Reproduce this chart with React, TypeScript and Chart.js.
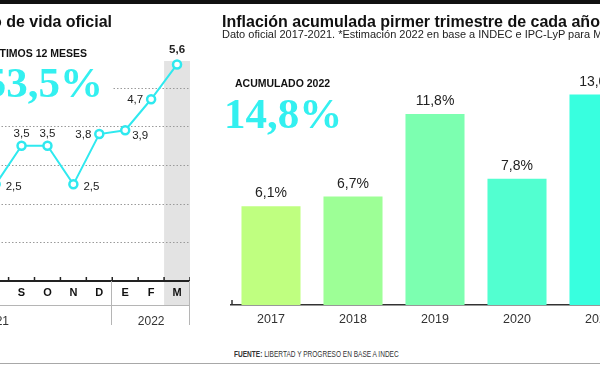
import React, { useEffect, useRef } from 'react';
import { Chart, registerables } from 'chart.js';

Chart.register(...registerables);

// ---- Data: left panel (monthly inflation, last 12 months) ----
const monthLabels = ['A', 'M', 'J', 'J', 'A', 'S', 'O', 'N', 'D', 'E', 'F', 'M'];
// first four months fall outside the visible crop
const monthlyInflation: (number | null)[] = [null, null, null, null, 2.5, 3.5, 3.5, 2.5, 3.8, 3.9, 4.7, 5.6];
const monthGridValues = [1, 2, 3, 4, 5];
const yearGroupLabels = ['2021', '2022'];
const yearGroupSizes = [9, 3];

// ---- Data: right panel (first-quarter accumulated inflation) ----
const years = ['2017', '2018', '2019', '2020', '2021'];
const q1Inflation = [6.1, 6.7, 11.8, 7.8, 13.0];

// ---- Styles ----
const CYAN = '#2fe9ef';
const BIG_CYAN = '#33f0f0';
const barColors = ['#bfff80', '#9dff96', '#7cffb0', '#52ffd0', '#38ffdf'];
const pointLabelSides = ['', '', '', '', 'right', 'above', 'above', 'right', 'left', 'belowRight', 'left', 'aboveBold'];
const SANS = '"Liberation Sans", Arial, sans-serif';
const SERIF = '"Liberation Serif", "Times New Roman", serif';

const fmt = (v: number) => v.toFixed(1).replace('.', ',');

const leftDecor = {
  id: 'leftDecor',
  beforeDraw(chart: any) {
    const { ctx, chartArea, scales } = chart;
    const x = scales.x;
    const y = scales.y;
    const half = (x.getPixelForValue(1) - x.getPixelForValue(0)) / 2;
    const mx = x.getPixelForValue(monthLabels.length - 1);
    ctx.save();
    // highlighted last month band
    ctx.fillStyle = '#e3e3e3';
    const bandTop = chartArea.top + 12;
    ctx.fillRect(mx - half, bandTop, half * 2, x.bottom - bandTop);
    // dotted gridlines
    ctx.strokeStyle = '#9a9a9a';
    ctx.lineWidth = 1;
    ctx.setLineDash([1.5, 2]);
    monthGridValues.forEach((v) => {
      const py = Math.round(y.getPixelForValue(v)) + 0.5;
      ctx.beginPath();
      ctx.moveTo(chartArea.left, py);
      ctx.lineTo(chartArea.right, py);
      ctx.stroke();
    });
    ctx.restore();
  },
  afterDraw(chart: any) {
    const { ctx, chartArea, scales } = chart;
    const x = scales.x;
    const half = (x.getPixelForValue(1) - x.getPixelForValue(0)) / 2;
    ctx.save();
    // upward tick marks at category boundaries
    ctx.strokeStyle = '#222';
    ctx.lineWidth = 1.5;
    for (let i = 0; i < monthLabels.length; i++) {
      const bx = x.getPixelForValue(i) + half;
      ctx.beginPath();
      ctx.moveTo(bx, chartArea.bottom - 4);
      ctx.lineTo(bx, chartArea.bottom);
      ctx.stroke();
    }
    // line under month labels
    ctx.strokeStyle = '#b5b5b5';
    ctx.lineWidth = 1;
    ctx.beginPath();
    ctx.moveTo(chartArea.left, x.bottom + 0.5);
    ctx.lineTo(chartArea.right, x.bottom + 0.5);
    ctx.stroke();
    // year separators and labels
    let start = 0;
    ctx.font = '12px ' + SANS;
    ctx.fillStyle = '#333';
    ctx.textAlign = 'center';
    ctx.textBaseline = 'alphabetic';
    yearGroupLabels.forEach((lab, gi) => {
      const end = start + yearGroupSizes[gi] - 1;
      const x0 = x.getPixelForValue(start) - half;
      const x1 = x.getPixelForValue(end) + half;
      ctx.beginPath();
      ctx.moveTo(Math.round(x1) - 0.5, chartArea.bottom);
      ctx.lineTo(Math.round(x1) - 0.5, x.bottom + 20);
      ctx.stroke();
      ctx.fillText(lab, (x0 + x1) / 2, x.bottom + 20);
      start = end + 1;
    });
    ctx.restore();
  },
  afterDatasetsDraw(chart: any) {
    const { ctx } = chart;
    const meta = chart.getDatasetMeta(0);
    ctx.save();
    ctx.fillStyle = '#222';
    meta.data.forEach((pt: any, i: number) => {
      const v = monthlyInflation[i];
      if (v == null) return;
      const side = pointLabelSides[i];
      const t = fmt(v);
      ctx.font = (side === 'aboveBold' ? 'bold ' : '') + '11.5px ' + SANS;
      if (side === 'right') {
        ctx.textAlign = 'left';
        ctx.textBaseline = 'middle';
        ctx.fillText(t, pt.x + 10, pt.y + 2);
      } else if (side === 'left') {
        ctx.textAlign = 'right';
        ctx.textBaseline = 'middle';
        ctx.fillText(t, pt.x - 8, pt.y + 1);
      } else if (side === 'belowRight') {
        ctx.textAlign = 'left';
        ctx.textBaseline = 'middle';
        ctx.fillText(t, pt.x + 7, pt.y + 6);
      } else if (side === 'aboveBold') {
        ctx.textAlign = 'center';
        ctx.textBaseline = 'alphabetic';
        ctx.fillText(t, pt.x, pt.y - 11);
      } else {
        ctx.textAlign = 'center';
        ctx.textBaseline = 'alphabetic';
        ctx.fillText(t, pt.x, pt.y - 9);
      }
    });
    ctx.restore();
  },
};

const rightDecor = {
  id: 'rightDecor',
  afterDatasetsDraw(chart: any) {
    const { ctx } = chart;
    const meta = chart.getDatasetMeta(0);
    ctx.save();
    ctx.fillStyle = '#222';
    ctx.font = '14px ' + SANS;
    ctx.textAlign = 'center';
    ctx.textBaseline = 'alphabetic';
    meta.data.forEach((bar: any, i: number) => {
      ctx.fillText(fmt(q1Inflation[i]) + '%', bar.x, bar.y - 9);
    });
    ctx.restore();
  },
  afterDraw(chart: any) {
    const { ctx, chartArea } = chart;
    ctx.save();
    ctx.strokeStyle = '#333';
    ctx.lineWidth = 1.5;
    ctx.beginPath();
    ctx.moveTo(chartArea.left + 2, chartArea.bottom - 5);
    ctx.lineTo(chartArea.left + 2, chartArea.bottom);
    ctx.stroke();
    ctx.restore();
  },
};

export default function App() {
  const leftRef = useRef<HTMLCanvasElement>(null);
  const rightRef = useRef<HTMLCanvasElement>(null);

  useEffect(() => {
    const left = new Chart(leftRef.current as HTMLCanvasElement, {
      type: 'line',
      data: {
        labels: monthLabels,
        datasets: [
          {
            data: monthlyInflation,
            borderColor: CYAN,
            borderWidth: 2,
            pointRadius: 4,
            pointBorderWidth: 2.5,
            pointBackgroundColor: '#fff',
            pointBorderColor: CYAN,
            tension: 0,
            spanGaps: false,
          },
        ],
      },
      options: {
        responsive: false,
        animation: false,
        events: [],
        layout: { autoPadding: false, padding: { top: 49, bottom: 40, left: 0, right: 0 } },
        plugins: { legend: { display: false }, tooltip: { enabled: false } },
        scales: {
          x: {
            type: 'category',
            offset: true,
            grid: { display: false, drawTicks: false },
            border: { display: true, color: '#222', width: 2 },
            ticks: {
              color: '#111',
              font: { family: SANS, size: 11, weight: 'bold' },
              padding: 5,
              maxRotation: 0,
              autoSkip: false,
            },
            afterFit: (s: any) => {
              s.height = 24;
            },
          },
          y: { display: false, min: 0, max: 6 },
        },
      },
      plugins: [leftDecor],
    } as any);

    const right = new Chart(rightRef.current as HTMLCanvasElement, {
      type: 'bar',
      data: {
        labels: years,
        datasets: [
          {
            data: q1Inflation,
            backgroundColor: barColors,
            borderWidth: 0,
            categoryPercentage: 0.8,
            barPercentage: 0.9,
          },
        ],
      },
      options: {
        responsive: false,
        animation: false,
        events: [],
        layout: { autoPadding: false, padding: { top: 46, bottom: 10, left: 0, right: 0 } },
        plugins: { legend: { display: false }, tooltip: { enabled: false } },
        scales: {
          x: {
            grid: { display: false, drawTicks: false },
            border: { display: true, color: '#333', width: 1.5 },
            ticks: {
              color: '#333',
              font: { family: SANS, size: 12.5 },
              padding: 7,
              maxRotation: 0,
              autoSkip: false,
            },
            afterFit: (s: any) => {
              s.height = 25;
            },
          },
          y: { display: false, min: 0, max: 16 },
        },
      },
      plugins: [rightDecor],
    } as any);

    return () => {
      left.destroy();
      right.destroy();
    };
  }, []);

  const abs = (o: any): React.CSSProperties => ({ position: 'absolute', lineHeight: 1, whiteSpace: 'nowrap', ...o });

  return (
    <div
      style={{
        position: 'absolute',
        left: 0,
        top: 0,
        width: 600,
        height: 365,
        overflow: 'hidden',
        background: '#fff',
        fontFamily: SANS,
        color: '#111',
      }}
    >
      <div style={abs({ left: 0, top: 0, width: 600, height: 3.5, background: '#111' })} />

      {/* Left panel */}
      <canvas ref={leftRef} width={311} height={345} style={{ position: 'absolute', left: -121, top: 0 }} />
      <div style={abs({ right: 488, top: 13.5, fontSize: 16, fontWeight: 'bold' })}>Inflación del costo de vida oficial</div>
      <div style={abs({ right: 513, top: 48.3, fontSize: 10.5, fontWeight: 'bold' })}>ÚLTIMOS 12 MESES</div>
      <div
        style={abs({
          right: 488,
          top: 61,
          height: 43,
          paddingRight: 9,
          paddingLeft: 4,
          fontSize: 43,
          fontWeight: 'bold',
          fontFamily: SERIF,
          color: BIG_CYAN,
          background: '#fff',
        })}
      >
        53,5%
      </div>

      {/* Right panel */}
      <canvas ref={rightRef} width={410} height={340} style={{ position: 'absolute', left: 230, top: 0 }} />
      <div style={abs({ left: 222, top: 13.5, fontSize: 16, fontWeight: 'bold' })}>
        Inflación acumulada pirmer trimestre de cada año
      </div>
      <div style={abs({ left: 222, top: 28.9, fontSize: 11, color: '#222' })}>
        Dato oficial 2017-2021. *Estimación 2022 en base a INDEC e IPC-LyP para Marzo
      </div>
      <div style={abs({ left: 235, top: 78.3, fontSize: 10.5, fontWeight: 'bold' })}>ACUMULADO 2022</div>
      <div
        style={abs({
          left: 224,
          top: 92,
          fontSize: 43,
          fontWeight: 'bold',
          fontFamily: SERIF,
          color: BIG_CYAN,
        })}
      >
        14,8%
      </div>
      <div
        style={abs({
          left: 234,
          top: 349.7,
          fontSize: 8.4,
          color: '#333',
          transform: 'scaleX(0.78)',
          transformOrigin: 'left top',
        })}
      >
        <b>FUENTE:</b> LIBERTAD Y PROGRESO EN BASE A INDEC
      </div>
      <div style={abs({ left: 0, top: 362.5, width: 600, height: 1.5, background: '#a8a8a8' })} />
    </div>
  );
}
